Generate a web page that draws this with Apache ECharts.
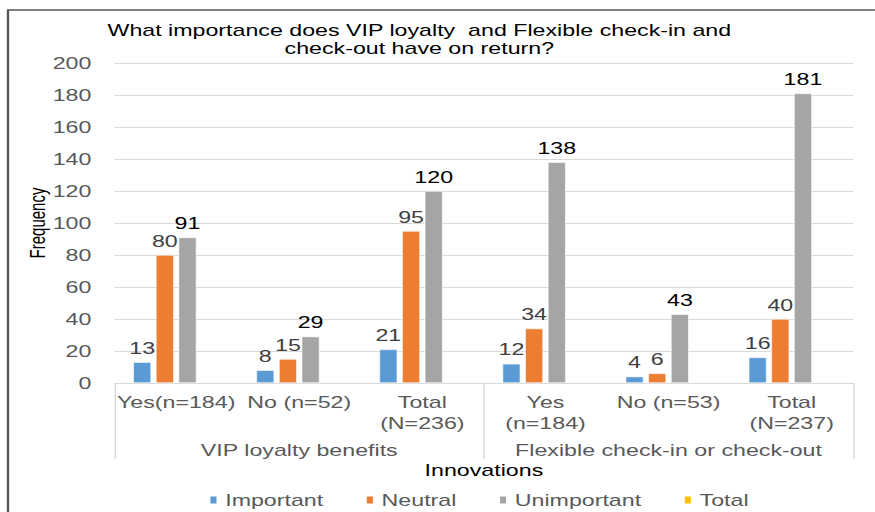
<!DOCTYPE html>
<html>
<head>
<meta charset="utf-8">
<script src="https://cdn.jsdelivr.net/npm/echarts@6/dist/echarts.min.js"></script>
<style>
  html, body { margin: 0; padding: 0; background: #fff; overflow: hidden; }
  /* the source picture is stretched sideways, so draw narrow and widen it */
  #chart { width: 603px; height: 512px; transform: scaleX(1.451); transform-origin: 0 0; }
</style>
</head>
<body>
<div id="chart"></div>
<script>
// categories on the lower axis and their groups
var categories = ['Yes(n=184)', 'No (n=52)', 'Total\n(N=236)', 'Yes\n(n=184)', 'No (n=53)', 'Total\n(N=237)']
var groups = ['VIP loyalty benefits', 'Flexible check-in or check-out']

// counts per answer
var important = [13, 8, 21, 12, 4, 16]
var neutral = [80, 15, 95, 34, 6, 40]
var unimportant = [91, 29, 120, 138, 43, 181]
var total = [null, null, null, null, null, null]

var font = 'Liberation Sans, Arial, sans-serif'

var chart = echarts.init(document.getElementById('chart'), null, { renderer: 'svg' })

function barSeries (name, data, color, labelColor) {
  return {
    name: name,
    type: 'bar',
    data: data,
    barWidth: 12.4,
    barGap: '26%',
    itemStyle: { color: color, borderColor: '#ffffff', borderWidth: 0.5 },
    label: {
      show: true,
      position: 'top',
      distance: 6,
      color: labelColor,
      fontSize: 16,
      fontFamily: font
    }
  }
}

chart.setOption({
  animation: false,
  textStyle: { fontFamily: font },
  title: {
    text: 'What importance does VIP loyalty  and Flexible check-in and\ncheck-out have on return?',
    left: 284,
    textAlign: 'center',
    top: 16,
    textStyle: { fontSize: 16, fontWeight: 'normal', color: '#000', lineHeight: 18, fontFamily: font }
  },
  graphic: [{
    type: 'polyline',
    shape: { points: [[5.5, 512], [5.5, 10], [603, 10]] },
    style: { stroke: '#555', lineWidth: 1.6, fill: null }
  }],
  legend: {
    left: 138,
    top: 487,
    itemWidth: 6.2,
    itemHeight: 9,
    itemGap: 28,
    icon: 'rect',
    textStyle: { fontSize: 16, color: '#595959', fontFamily: font },
    data: ['Important', 'Neutral', 'Unimportant', 'Total']
  },
  grid: { left: 79, right: 15, top: 63, bottom: 129 },
  xAxis: [
    {
      type: 'category',
      data: categories,
      position: 'bottom',
      axisLine: { lineStyle: { color: '#D9D9D9' } },
      axisTick: { show: false },
      axisLabel: { interval: 0, margin: 9, fontSize: 16, color: '#595959', lineHeight: 21, fontFamily: font }
    },
    {
      type: 'category',
      data: groups,
      position: 'bottom',
      axisLine: { show: false },
      axisTick: { show: true, length: 76, interval: 0, lineStyle: { color: '#D9D9D9' } },
      axisLabel: { interval: 0, margin: 59, fontSize: 16, color: '#595959', fontFamily: font },
      name: 'Innovations',
      nameLocation: 'middle',
      nameGap: 79,
      nameMoveOverlap: false,
      nameTextStyle: { fontSize: 16, color: '#000', fontFamily: font }
    }
  ],
  yAxis: {
    type: 'value',
    min: 0,
    max: 200,
    interval: 20,
    name: 'Frequency',
    nameLocation: 'middle',
    nameRotate: 90,
    nameGap: 46,
    nameMoveOverlap: false,
    nameTextStyle: { fontSize: 15, color: '#000', fontFamily: 'Liberation Sans Narrow, Arial Narrow, sans-serif' },
    axisLine: { show: false },
    axisTick: { show: false },
    axisLabel: { fontSize: 16, color: '#595959', margin: 16, fontFamily: font },
    splitLine: { lineStyle: { color: '#D9D9D9' } }
  },
  series: [
    barSeries('Important', important, '#5B9BD5', '#404040'),
    barSeries('Neutral', neutral, '#ED7D31', '#404040'),
    barSeries('Unimportant', unimportant, '#A5A5A5', '#000000'),
    barSeries('Total', total, '#FFC000', '#404040')
  ]
})
</script>
</body>
</html>
